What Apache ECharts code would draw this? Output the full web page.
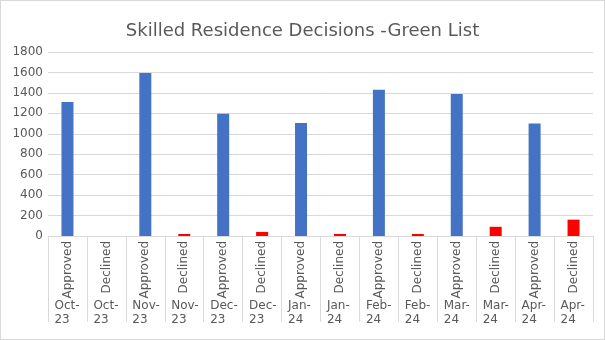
<!DOCTYPE html>
<html>
<head>
<meta charset="utf-8">
<script src="https://cdn.jsdelivr.net/npm/echarts@6/dist/echarts.min.js"></script>
<style>
html,body{margin:0;padding:0;background:#fff;}
#c{width:603px;height:338px;border:1px solid #d9d9d9;}
</style>
</head>
<body>
<div id="c"></div>
<script>
var decisions = ['Approved','Declined','Approved','Declined','Approved','Declined','Approved','Declined','Approved','Declined','Approved','Declined','Approved','Declined'];
var months = ['Oct-23','Oct-23','Nov-23','Nov-23','Dec-23','Dec-23','Jan-24','Jan-24','Feb-24','Feb-24','Mar-24','Mar-24','Apr-24','Apr-24'];
var approved = [1310,null,1595,null,1195,null,1105,null,1430,null,1390,null,1100,null];
var declined = [null,0,null,20,null,40,null,20,null,20,null,90,null,160];
var yTicks = {min:0, max:1800, interval:200};

var chart = echarts.init(document.getElementById('c'));
var font = '"DejaVu Sans", sans-serif';
chart.setOption({
  animation:false,
  title:{text:'Skilled Residence Decisions -Green List', left:'center', top:16,
    textStyle:{fontFamily:font, fontSize:18, fontWeight:'normal', color:'#595959'}},
  grid:{left:47, right:11, top:51, bottom:103, containLabel:false},
  xAxis:[{
    type:'category', data:decisions, position:'bottom',
    axisLine:{lineStyle:{color:'#d9d9d9'}},
    axisTick:{show:true, length:86, lineStyle:{color:'#d9d9d9'}},
    axisLabel:{rotate:90, margin:5, fontFamily:font, fontSize:12, color:'#595959', interval:0}
  },{
    type:'category', data:months, position:'bottom',
    axisLine:{show:false}, axisTick:{show:false},
    axisLabel:{margin:63, interval:0, fontFamily:font, fontSize:12, color:'#595959',
      formatter:function(v){var p=v.split('-');return '{a|'+p[0]+'-}\n{a|'+p[1]+'}';},
      rich:{a:{width:26, align:'left', lineHeight:14, fontFamily:font, fontSize:12, color:'#595959'}}}
  }],
  yAxis:{type:'value', min:yTicks.min, max:yTicks.max, interval:yTicks.interval,
    axisLine:{show:false}, axisTick:{show:false},
    splitLine:{lineStyle:{color:'#d9d9d9'}},
    axisLabel:{fontFamily:font, fontSize:12, color:'#595959', margin:5, formatter:function(v){return String(v);}}},
  series:[
    {type:'bar', name:'Approved', data:approved, stack:'s', barWidth:12, itemStyle:{color:'#4472C4'}},
    {type:'bar', name:'Declined', data:declined, stack:'s', barWidth:12, itemStyle:{color:'#FF0000'}}
  ]
});
</script>
</body>
</html>
